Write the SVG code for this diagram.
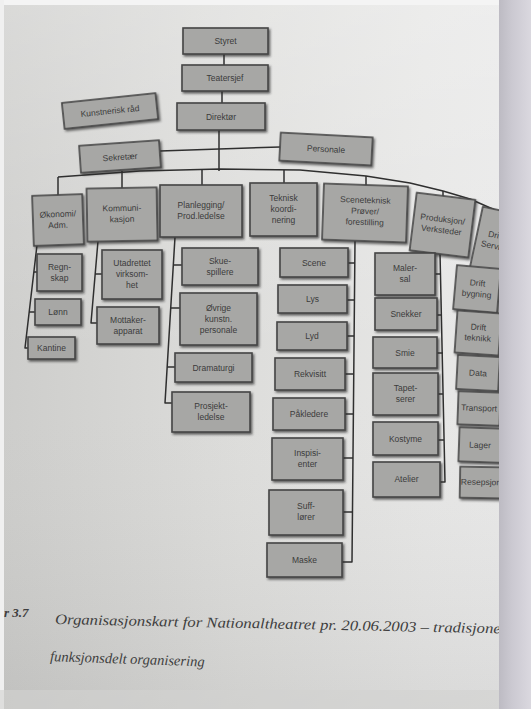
<svg xmlns="http://www.w3.org/2000/svg" width="531" height="709" viewBox="0 0 531 709">
<defs>
<linearGradient id="page" x1="0" y1="0" x2="1" y2="0">
<stop offset="0" stop-color="#cdcdcb"/>
<stop offset="0.45" stop-color="#dddddb"/>
<stop offset="0.8" stop-color="#e6e6e5"/>
<stop offset="1" stop-color="#e9e9e9"/>
</linearGradient>
<linearGradient id="pagev" x1="0" y1="0" x2="0" y2="1">
<stop offset="0" stop-color="#ffffff" stop-opacity="0.25"/>
<stop offset="0.5" stop-color="#ffffff" stop-opacity="0"/>
<stop offset="1" stop-color="#000000" stop-opacity="0.06"/>
</linearGradient>
<linearGradient id="edge" x1="0" y1="0" x2="1" y2="0">
<stop offset="0" stop-color="#bdbbc3"/>
<stop offset="0.4" stop-color="#cbc9d1"/>
<stop offset="1" stop-color="#dad8df"/>
</linearGradient>
<filter id="sh" x="-10%" y="-10%" width="130%" height="140%">
<feDropShadow dx="1.5" dy="1.8" stdDeviation="0.9" flood-color="#2a2a2a" flood-opacity="0.7"/>
</filter>
<clipPath id="pg"><rect x="0" y="0" width="499" height="709"/></clipPath>
</defs>
<style>
.node rect{fill:#a7a7a5;stroke:#454545;stroke-width:1.6;filter:url(#sh)}
.node text{font-family:"Liberation Sans","DejaVu Sans",sans-serif;font-size:8.5px;fill:#3b3b3b;text-anchor:middle}
#connectors path,#connectors line,#connectors polyline{stroke:#2f2f2f;stroke-width:1.5;fill:none;stroke-linejoin:round}
.cap{font-family:"Liberation Serif","DejaVu Serif",serif;font-style:italic;fill:#3e3e3e}
</style>
<rect x="0" y="0" width="531" height="709" fill="url(#page)"/>
<rect x="0" y="0" width="531" height="709" fill="url(#pagev)"/>
<rect x="0" y="0" width="531" height="5" fill="#f4f4f4"/>
<rect x="0" y="0" width="4" height="709" fill="#f0f0f0"/>

<g clip-path="url(#pg)">
<g id="connectors">
<line x1="224" y1="54" x2="224" y2="65"/>
<line x1="222" y1="91" x2="222" y2="103"/>
<line x1="219" y1="130" x2="219" y2="171"/>
<line x1="160" y1="151" x2="280" y2="147"/>
<polyline points="58,177 140,171 220,169 300,170 366,176 410,183 443,191 470,199 495,210 505,215"/>
<line x1="58" y1="177" x2="58" y2="196"/>
<line x1="122" y1="171" x2="122" y2="189"/>
<line x1="202" y1="169" x2="202" y2="186"/>
<line x1="284" y1="170" x2="284" y2="184"/>
<line x1="366" y1="176" x2="366" y2="186"/>
<line x1="443" y1="191" x2="443" y2="200"/>
<line x1="488" y1="207" x2="488" y2="215"/>
<polyline points="37,245 25,348 28,348"/>
<line x1="34" y1="272" x2="38" y2="272"/>
<line x1="29" y1="312" x2="35" y2="312"/>
<polyline points="98,241 91,323 97,323"/>
<line x1="95" y1="274" x2="102" y2="274"/>
<polyline points="175,237 165,403 172,403"/>
<line x1="173" y1="265" x2="182" y2="265"/>
<line x1="171" y1="308" x2="180" y2="308"/>
<line x1="167" y1="367" x2="175" y2="367"/>
<polyline points="355,241 352,562 342,562"/>
<line x1="348" y1="263" x2="355" y2="263"/>
<line x1="347" y1="300" x2="354" y2="300"/>
<line x1="347" y1="336" x2="354" y2="336"/>
<line x1="345" y1="374" x2="354" y2="374"/>
<line x1="345" y1="414" x2="353" y2="414"/>
<line x1="343" y1="458" x2="353" y2="458"/>
<line x1="343" y1="512" x2="353" y2="512"/>
<polyline points="440,253 445,482 440,482"/>
<line x1="435" y1="274" x2="441" y2="274"/>
<line x1="437" y1="315" x2="442" y2="315"/>
<line x1="437" y1="353" x2="443" y2="353"/>
<line x1="438" y1="394" x2="443" y2="394"/>
<line x1="438" y1="440" x2="444" y2="440"/>
<line x1="497" y1="290" x2="503" y2="290"/>
<line x1="497" y1="333" x2="503" y2="333"/>
<line x1="497" y1="374" x2="503" y2="374"/>
<line x1="497" y1="410" x2="503" y2="410"/>
<line x1="497" y1="446" x2="503" y2="446"/>
<line x1="497" y1="483" x2="503" y2="483"/>
</g>

<g id="n-styret" class="node"><rect x="183" y="28" width="85" height="26"/><text x="225.5" y="44">Styret</text></g>
<g id="n-teatersjef" class="node"><rect x="182" y="65" width="86" height="26"/><text x="225" y="81">Teatersjef</text></g>
<g id="n-kunstnerisk" class="node" transform="rotate(-6 110 111)"><rect x="63" y="98" width="94" height="26"/><text x="110" y="114">Kunstnerisk råd</text></g>
<g id="n-direktor" class="node"><rect x="177" y="103" width="88" height="27"/><text x="221" y="119.5">Direktør</text></g>
<g id="n-sekretar" class="node" transform="rotate(-4 120 157)"><rect x="80" y="143" width="80" height="27"/><text x="120" y="160">Sekretær</text></g>
<g id="n-personale" class="node" transform="rotate(3 326 149)"><rect x="280" y="135" width="92" height="28"/><text x="326" y="152">Personale</text></g>

<g id="n-okonomi" class="node" transform="rotate(-2 58 220)"><rect x="33" y="195" width="50" height="50"/><text x="58" y="217">Økonomi/</text><text x="58" y="228">Adm.</text></g>
<g id="n-kommunikasjon" class="node" transform="rotate(-1 122 214)"><rect x="87" y="188" width="70" height="53"/><text x="122" y="211">Kommuni-</text><text x="122" y="222">kasjon</text></g>
<g id="n-planlegging" class="node"><rect x="160" y="185" width="82" height="52"/><text x="201" y="208">Planlegging/</text><text x="201" y="219">Prod.ledelse</text></g>
<g id="n-teknisk" class="node"><rect x="250" y="183" width="67" height="53"/><text x="283.5" y="201">Teknisk</text><text x="283.5" y="212">koordi-</text><text x="283.5" y="223">nering</text></g>
<g id="n-sceneteknisk" class="node" transform="rotate(2 365 213)"><rect x="323" y="185" width="84" height="56"/><text x="365" y="203">Sceneteknisk</text><text x="365" y="214">Prøver/</text><text x="365" y="225">forestilling</text></g>
<g id="n-produksjon" class="node" transform="rotate(7 442 225)"><rect x="413" y="196" width="59" height="58"/><text x="442" y="222">Produksjon/</text><text x="442" y="233">Verksteder</text></g>
<g id="n-drift" class="node" transform="rotate(12 495 241)"><rect x="476" y="210" width="40" height="62"/><text x="496" y="238">Drift/</text><text x="496" y="249">Service</text></g>

<g id="n-regnskap" class="node"><rect x="37" y="254" width="45" height="37"/><text x="59.5" y="270">Regn-</text><text x="59.5" y="281">skap</text></g>
<g id="n-lonn" class="node"><rect x="35" y="299" width="46" height="26"/><text x="58" y="315">Lønn</text></g>
<g id="n-kantine" class="node"><rect x="28" y="337" width="47" height="22"/><text x="51.5" y="351">Kantine</text></g>
<g id="n-utadrettet" class="node"><rect x="102" y="250" width="60" height="49"/><text x="132" y="266">Utadrettet</text><text x="132" y="277">virksom-</text><text x="132" y="288">het</text></g>
<g id="n-mottaker" class="node"><rect x="97" y="307" width="62" height="37"/><text x="128" y="323">Mottaker-</text><text x="128" y="334">apparat</text></g>

<g id="n-skuespillere" class="node"><rect x="182" y="248" width="76" height="37"/><text x="220" y="264">Skue-</text><text x="220" y="275">spillere</text></g>
<g id="n-ovrige" class="node"><rect x="180" y="293" width="77" height="52"/><text x="218.5" y="311">Øvrige</text><text x="218.5" y="322">kunstn.</text><text x="218.5" y="333">personale</text></g>
<g id="n-dramaturgi" class="node"><rect x="175" y="353" width="77" height="29"/><text x="213.5" y="370.5">Dramaturgi</text></g>
<g id="n-prosjekt" class="node"><rect x="172" y="392" width="78" height="40"/><text x="211" y="409">Prosjekt-</text><text x="211" y="420">ledelse</text></g>

<g id="n-scene" class="node"><rect x="280" y="248" width="68" height="29"/><text x="314" y="265.5">Scene</text></g>
<g id="n-lys" class="node"><rect x="278" y="285" width="69" height="28"/><text x="312.5" y="302">Lys</text></g>
<g id="n-lyd" class="node"><rect x="277" y="322" width="70" height="28"/><text x="312" y="339">Lyd</text></g>
<g id="n-rekvisitt" class="node"><rect x="275" y="358" width="70" height="32"/><text x="310" y="377">Rekvisitt</text></g>
<g id="n-pakledere" class="node"><rect x="273" y="398" width="72" height="32"/><text x="309" y="417">Påkledere</text></g>
<g id="n-inspisienter" class="node"><rect x="272" y="438" width="71" height="42"/><text x="307.5" y="456">Inspisi-</text><text x="307.5" y="467">enter</text></g>
<g id="n-sufflorer" class="node"><rect x="269" y="490" width="74" height="45"/><text x="306" y="509">Suff-</text><text x="306" y="520">lører</text></g>
<g id="n-maske" class="node"><rect x="267" y="543" width="75" height="34"/><text x="304.5" y="563">Maske</text></g>

<g id="n-malersal" class="node"><rect x="375" y="253" width="60" height="42"/><text x="405" y="271">Maler-</text><text x="405" y="282">sal</text></g>
<g id="n-snekker" class="node"><rect x="375" y="298" width="62" height="32"/><text x="406" y="317">Snekker</text></g>
<g id="n-smie" class="node"><rect x="373" y="337" width="64" height="31"/><text x="405" y="355.5">Smie</text></g>
<g id="n-tapetserer" class="node"><rect x="373" y="373" width="65" height="42"/><text x="405.5" y="391">Tapet-</text><text x="405.5" y="402">serer</text></g>
<g id="n-kostyme" class="node"><rect x="373" y="422" width="65" height="33"/><text x="405.5" y="441.5">Kostyme</text></g>
<g id="n-atelier" class="node"><rect x="373" y="462" width="67" height="35"/><text x="406.5" y="482">Atelier</text></g>

<g id="n-driftbygning" class="node" transform="rotate(5 477 289)"><rect x="455" y="267" width="44" height="44"/><text x="477" y="286">Drift</text><text x="477" y="297">bygning</text></g>
<g id="n-driftteknikk" class="node" transform="rotate(4 478 333)"><rect x="456" y="312" width="44" height="42"/><text x="478" y="330">Drift</text><text x="478" y="341">teknikk</text></g>
<g id="n-data" class="node" transform="rotate(3 478 373)"><rect x="457" y="356" width="42" height="34"/><text x="478" y="376">Data</text></g>
<g id="n-transport" class="node" transform="rotate(2 479 408)"><rect x="458" y="392" width="42" height="33"/><text x="479" y="411">Transport</text></g>
<g id="n-lager" class="node" transform="rotate(2 480 445)"><rect x="459" y="428" width="42" height="34"/><text x="480" y="448">Lager</text></g>
<g id="n-resepsjon" class="node" transform="rotate(1 481 482)"><rect x="460" y="467" width="42" height="31"/><text x="481" y="485">Resepsjon</text></g>

<text class="cap" x="4" y="617" font-size="13" font-weight="bold">r 3.7</text>
<text class="cap" x="55" y="624" font-size="14.5" transform="rotate(1.2 55 624)" textLength="455" lengthAdjust="spacingAndGlyphs">Organisasjonskart for Nationaltheatret pr. 20.06.2003 – tradisjonell</text>
<text class="cap" x="50" y="661" font-size="14.5" transform="rotate(2 50 661)">funksjonsdelt organisering</text>
</g>

<rect x="499" y="0" width="32" height="709" fill="url(#edge)"/>
<rect x="0" y="690" width="499" height="19" fill="#d2d2d0" opacity="0.6"/>
</svg>
